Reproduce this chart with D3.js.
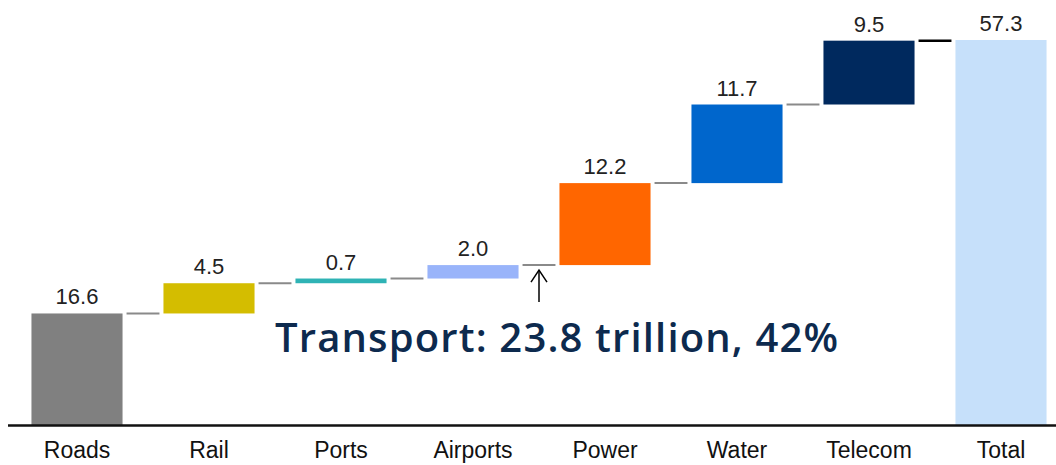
<!DOCTYPE html>
<html>
<head>
<meta charset="utf-8">
<script src="https://cdn.jsdelivr.net/npm/d3@7"></script>
<style>
  html, body { margin: 0; padding: 0; background: #fff; }
  svg { display: block; }
</style>
</head>
<body>
<svg id="chart" width="1056" height="465"></svg>
<script>
const categories = ["Roads", "Rail", "Ports", "Airports", "Power", "Water", "Telecom", "Total"];
const values = [16.6, 4.5, 0.7, 2.0, 12.2, 11.7, 9.5, 57.3];
const valueLabels = ["16.6", "4.5", "0.7", "2.0", "12.2", "11.7", "9.5", "57.3"];
const colors = ["#808080", "#d4bd00", "#2fb3b5", "#99b4fa", "#ff6600", "#0066cc", "#00295e", "#c6e0fa"];
const annotationText = "Transport: 23.8 trillion, 42%";
const transportEndIndex = 3; // arrow after Airports

const svg = d3.select("#chart");
const baseY = 425;

const x = d3.scaleBand().domain(categories).range([11, 1067]).paddingInner(0.31).paddingOuter(0.155);
const y = d3.scaleLinear().domain([0, 57.3]).range([baseY, 40]);

let cum = 0;
const bars = categories.map((c, i) => {
  let start, end;
  if (i === categories.length - 1) { start = 0; end = values[i]; }
  else { start = cum; end = cum + values[i]; cum = end; }
  return { c, start, end, v: values[i], label: valueLabels[i], color: colors[i] };
});

const gap = 4;
bars.slice(0, -1).forEach((b, i) => {
  const next = categories[i + 1];
  const isLast = i === bars.length - 2;
  svg.append("line")
    .attr("x1", x(b.c) + x.bandwidth() + gap)
    .attr("x2", x(next) - gap)
    .attr("y1", y(b.end))
    .attr("y2", y(b.end))
    .attr("stroke", isLast ? "#000" : "#8a8a8a")
    .attr("stroke-width", isLast ? 2.5 : 2);
});

svg.selectAll("rect.bar").data(bars).enter().append("rect")
  .attr("class", "bar")
  .attr("x", d => x(d.c))
  .attr("width", x.bandwidth())
  .attr("y", d => y(d.end))
  .attr("height", d => Math.max(y(d.start) - y(d.end), 1))
  .attr("fill", d => d.color);

svg.selectAll("text.val").data(bars).enter().append("text")
  .attr("class", "val")
  .attr("x", d => x(d.c) + x.bandwidth() / 2)
  .attr("y", d => y(d.end) - 9)
  .attr("text-anchor", "middle")
  .attr("font-family", "'Liberation Sans', Arial, sans-serif")
  .attr("font-size", 22)
  .attr("fill", "#222")
  .text(d => d.label);

const axis = d3.axisBottom(x).tickSize(0).tickPadding(17);
const ax = svg.append("g").attr("transform", `translate(0,${baseY})`).call(axis);
ax.select(".domain").remove();
ax.selectAll("text")
  .attr("font-family", "'Liberation Sans', Arial, sans-serif")
  .attr("font-size", 23)
  .attr("fill", "#111");
svg.append("line")
  .attr("x1", 8).attr("x2", 1056)
  .attr("y1", baseY + 0.5).attr("y2", baseY + 0.5)
  .attr("stroke", "#111").attr("stroke-width", 2.5);

const arrowX = (x(categories[transportEndIndex]) + x.bandwidth() + x(categories[transportEndIndex + 1])) / 2;
const arrowTop = y(bars[transportEndIndex].end) + 5;
svg.append("line")
  .attr("x1", arrowX).attr("x2", arrowX)
  .attr("y1", arrowTop).attr("y2", arrowTop + 32)
  .attr("stroke", "#000").attr("stroke-width", 1.5);
svg.append("path")
  .attr("d", `M${arrowX - 8},${arrowTop + 12} L${arrowX},${arrowTop} L${arrowX + 8},${arrowTop + 12}`)
  .attr("fill", "none").attr("stroke", "#000").attr("stroke-width", 1.5);

svg.append("text")
  .attr("x", 275).attr("y", 352)
  .attr("font-family", "'Open Sans', sans-serif")
  .attr("font-weight", 600)
  .attr("font-size", 40)
  .attr("fill", "#0d2a4e")
  .attr("textLength", 563)
  .attr("lengthAdjust", "spacing")
  .text(annotationText);
</script>
</body>
</html>
